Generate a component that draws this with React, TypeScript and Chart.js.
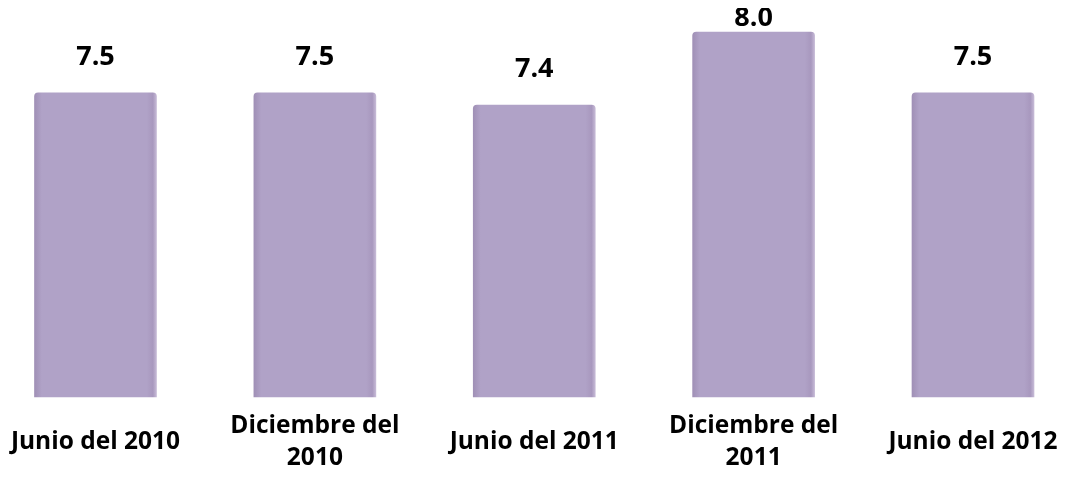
import React, { useEffect, useRef } from "react";
import { Chart, registerables } from "chart.js";

Chart.register(...registerables);

const categories: (string | string[])[] = [
  "Junio del 2010",
  ["Diciembre del", "2010"],
  "Junio del 2011",
  ["Diciembre del", "2011"],
  "Junio del 2012",
];
const values: number[] = [7.5, 7.5, 7.4, 8.0, 7.5];
const valueLabels: string[] = ["7.5", "7.5", "7.4", "8.0", "7.5"];

const FONT = "'Open Sans', 'Noto Sans', sans-serif";
const BAR_W = 122;

const valueLabelPlugin = {
  id: "valueLabels",
  afterDatasetsDraw(chart: any) {
    const ctx = chart.ctx;
    const meta = chart.getDatasetMeta(0);
    ctx.save();
    ctx.font = `bold 27px ${FONT}`;
    ctx.fillStyle = "#000";
    ctx.textAlign = "center";
    ctx.textBaseline = "middle";
    meta.data.forEach((el: any, i: number) => {
      const y = Math.max(el.y - 36, 10);
      ctx.fillText(valueLabels[i], el.x, y);
    });
    ctx.restore();
  },
};

function barFill(context: any) {
  const chart = context.chart;
  if (!chart.chartArea || !chart.scales?.x) return "#b0a2c7";
  const cx = chart.scales.x.getPixelForValue(context.dataIndex);
  const x0 = cx - BAR_W / 2;
  const g = chart.ctx.createLinearGradient(x0, 0, x0 + BAR_W, 0);
  g.addColorStop(0, "#a090b6");
  g.addColorStop(0.06, "#b0a2c7");
  g.addColorStop(0.92, "#b0a2c7");
  g.addColorStop(0.97, "#a898be");
  g.addColorStop(1, "#c6bad6");
  return g;
}

export default function App() {
  const ref = useRef<HTMLCanvasElement | null>(null);
  useEffect(() => {
    if (!ref.current) return;
    const chart = new Chart(ref.current, {
      type: "bar",
      data: {
        labels: categories,
        datasets: [
          {
            data: values,
            base: 5,
            backgroundColor: barFill,
            borderWidth: 0,
            borderRadius: { topLeft: 4, topRight: 4, bottomLeft: 0, bottomRight: 0 },
            borderSkipped: false,
            barThickness: BAR_W,
            clip: false as any,
          },
        ],
      },
      options: {
        animation: false,
        responsive: true,
        maintainAspectRatio: false,
        layout: { padding: { left: 87.5, right: 85, top: 24, bottom: 8 } },
        plugins: { legend: { display: false }, tooltip: { enabled: false } },
        scales: {
          x: {
            offset: false,
            grid: { display: false, drawTicks: false },
            border: { display: false },
            afterFit: (scale: any) => {
              scale.height = 73;
              scale.paddingLeft = 0;
              scale.paddingRight = 0;
            },
            ticks: {
              autoSkip: false,
              maxRotation: 0,
              padding: 29,
              color: "#000",
              crossAlign: "center",
              font: { family: FONT, size: 24.5, weight: "bold", lineHeight: 1.306 },
            },
          },
          y: {
            display: false,
            min: 5,
            max: 8,
          },
        },
      },
      plugins: [valueLabelPlugin],
    });
    return () => chart.destroy();
  }, []);
  return (
    <div style={{ width: 1050, height: 470 }}>
      <canvas ref={ref} />
    </div>
  );
}
